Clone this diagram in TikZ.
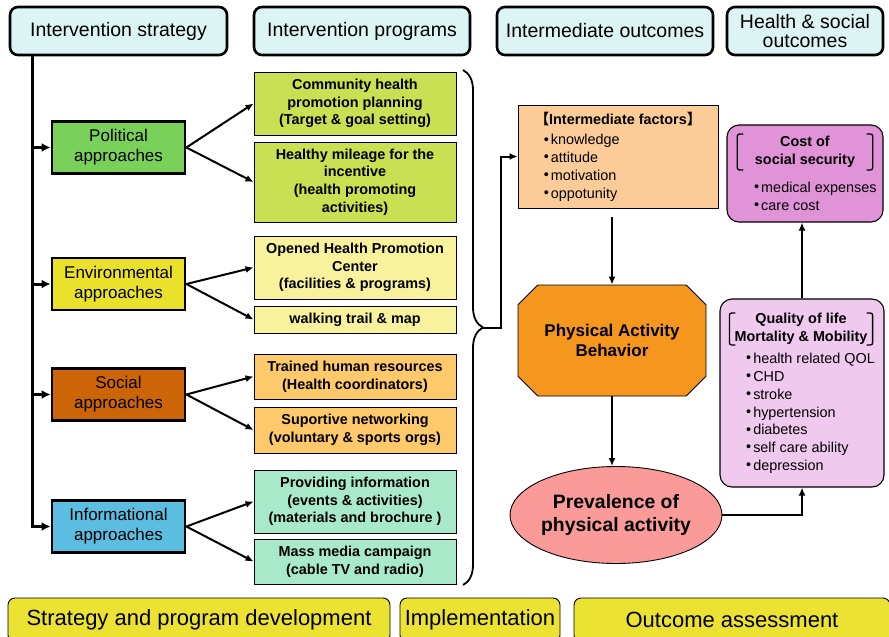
\documentclass[tikz,border=0pt]{standalone}
\usepackage{fontspec}
\setmainfont{Liberation Sans}
\newfontfamily\cjkfont{Noto Sans CJK SC}
\usepackage{graphicx}
\usepackage{xcolor}
\usetikzlibrary{arrows.meta, calc, positioning, shapes.geometric, shapes.misc, decorations.pathreplacing}

\definecolor{headcyan}{HTML}{DCF4F3}
\definecolor{polgreen}{HTML}{7AD15A}
\definecolor{envyellow}{HTML}{EAE22A}
\definecolor{socorange}{HTML}{CC6508}
\definecolor{infoblue}{HTML}{5BBEE0}
\definecolor{progolive}{HTML}{C8E052}
\definecolor{progcream}{HTML}{F7F29B}
\definecolor{progapricot}{HTML}{FDC96B}
\definecolor{progmint}{HTML}{A8E9C9}
\definecolor{peach}{HTML}{FBCB98}
\definecolor{actorange}{HTML}{F5961E}
\definecolor{prevpink}{HTML}{FA9A99}
\definecolor{qolpink}{HTML}{F0C9EE}
\definecolor{costorchid}{HTML}{E193D8}
\definecolor{bandyellow}{HTML}{EBE232}

\newcommand{\hdfont}{\fontsize{19.5}{19}\selectfont}
\newcommand{\apfont}{\fontsize{17}{20}\selectfont}
\newcommand{\pgfont}{\fontsize{14.4}{17.6}\selectfont\bfseries}
\newcommand{\ftfont}{\fontsize{14.4}{17.8}\selectfont}
\newcommand{\ftbold}{\fontsize{14.4}{18}\selectfont\bfseries}
\newcommand{\octfont}{\fontsize{17}{20}\selectfont\bfseries}
\newcommand{\prvfont}{\fontsize{19.4}{23}\selectfont\bfseries}
\newcommand{\bdfont}{\fontsize{22}{24}\selectfont}
\newcommand{\bul}{\raisebox{0.1ex}{\textbullet}\hspace{2pt}}

\begin{document}
\begin{tikzpicture}[x=1pt, y=-1pt,
  header/.style={draw, line width=2.6pt, rounded corners=8pt, fill=headcyan, align=center, font=\hdfont, inner sep=0pt, minimum height=48pt},
  approach/.style={draw, line width=2.8pt, minimum width=133pt, minimum height=52pt, align=center, font=\apfont, inner sep=0pt},
  prog/.style={draw, line width=0.9pt, minimum width=202pt, align=center, font=\pgfont, inner sep=0pt},
  outbox/.style={draw, line width=1.1pt, rounded corners=12pt, inner sep=0pt},
  band/.style={draw, line width=0.9pt, rounded corners=7pt, fill=bandyellow, font=\bdfont, minimum height=44pt, inner sep=0pt},
  link/.style={line width=2pt, -{Latex[length=8pt,width=7pt]}},
  trunk/.style={line width=3pt, -{Latex[length=9pt,width=9pt]}},
  brk/.style={line width=1.3pt, rounded corners=2pt},
]
\useasboundingbox (0,0) rectangle (889,637);
\clip (0,0) rectangle (889,637);

% column headers
\node[header, minimum width=217pt] (hstr) at (118.5,31) {Intervention strategy};
\node[header, minimum width=216pt] (hprog) at (362,31) {Intervention programs};
\node[header, minimum width=216pt] (hint) at (605,31) {Intermediate outcomes};
\node[header, minimum width=156pt] (hout) at (805,31) {Health \& social\\outcomes};

% approaches
\node[approach, fill=polgreen] (pol) at (118.5,147.5) {Political\\approaches};
\node[approach, fill=envyellow] (env) at (118.5,284) {Environmental\\approaches};
\node[approach, fill=socorange] (soc) at (118.5,394.5) {Social\\approaches};
\node[approach, fill=infoblue] (inf) at (118.5,526.5) {Informational\\approaches};

% programs
\node[prog, fill=progolive, minimum height=63pt] (commplan) at (355,103.5) {Community health\\promotion planning\\(Target \& goal setting)};
\node[prog, fill=progolive, minimum height=80pt] (mileage) at (355,182) {Healthy mileage for the\\incentive\\(health promoting\\activities)};
\node[prog, fill=progcream, minimum height=63pt] (center) at (355,267.5) {Opened Health Promotion\\Center\\(facilities \& programs)};
\node[prog, fill=progcream, minimum height=27pt] (trail) at (355,319.5) {walking trail \& map};
\node[prog, fill=progapricot, minimum height=45pt] (trained) at (355,376.5) {Trained human resources\\(Health coordinators)};
\node[prog, fill=progapricot, minimum height=46pt] (network) at (355,430) {Suportive networking\\(voluntary \& sports orgs)};
\node[prog, fill=progmint, minimum height=63pt] (provide) at (355,501.5) {Providing information\\(events \& activities)\\(materials and brochure )};
\node[prog, fill=progmint, minimum height=45pt] (media) at (355,561.5) {Mass media campaign\\(cable TV and radio)};

% trunk line and approach arrows
\coordinate (trunktop) at (32,55);
\draw[trunk] (trunktop) |- (inf.west);
\foreach \s in {pol,env,soc}
  \draw[trunk] (trunktop |- \s.west) -- (\s.west);
\foreach \s/\a/\b in {pol/commplan/mileage, env/center/trail, soc/trained/network, inf/provide/media} {
  \draw[link] (\s.east) -- (\a.west);
  \draw[link] (\s.east) -- (\b.west);
}

% brace over the programs
\draw[line width=1.8pt, decorate, decoration={brace, amplitude=20pt}] (463,70) -- (463,585);
\coordinate (bracetip) at (483,327.5);

% intermediate outcomes
\node[draw, line width=0.9pt, fill=peach, minimum width=200pt, minimum height=103pt, align=left, font=\ftfont, inner sep=0pt] (ifac) at (618,156.5)
  {\textbf{{\cjkfont 【}Intermediate factors{\cjkfont 】}}\\[3pt]
   \hspace{9pt}\bul knowledge\\
   \hspace{9pt}\bul attitude\\
   \hspace{9pt}\bul motivation\\
   \hspace{9pt}\bul oppotunity};
\node[chamfered rectangle, chamfered rectangle xsep=33pt, draw, line width=0.9pt, fill=actorange, minimum width=188pt, minimum height=111pt, inner sep=0pt, align=center, font=\octfont] (pab) at (612,340.5) {Physical Activity\\Behavior};
\node[ellipse, draw, line width=0.9pt, fill=prevpink, minimum width=196pt, minimum height=97pt, inner sep=0pt, align=center, font=\prvfont] (prev) at (616,515) {Prevalence of\\physical activity};

% health & social outcomes
\node[outbox, fill=qolpink, minimum width=164pt, minimum height=188pt] (qol) at (802,393) {};
\node[font=\ftbold, align=center, inner xsep=5pt, inner ysep=0pt] (qoltitle) at (801,329) {Quality of life\\Mortality \& Mobility};
\node[font=\ftfont, align=left, anchor=north west, inner sep=0pt] (qollist) at (746,353)
  {\bul health related QOL\\\bul CHD\\\bul stroke\\\bul hypertension\\\bul diabetes\\\bul self care ability\\\bul depression};
\node[outbox, fill=costorchid, minimum width=156pt, minimum height=97pt] (cost) at (805,173.5) {};
\node[font=\ftbold, align=center, minimum width=135pt, inner ysep=2pt] (costtitle) at (805,152) {Cost of\\social security};
\node[font=\ftfont, align=left, anchor=north west, inner sep=0pt] (costlist) at (754,182)
  {\bul medical expenses\\\bul care cost};
\foreach \t in {qoltitle, costtitle} {
  \draw[brk] ([xshift=6pt]\t.north west) -- (\t.north west) -- (\t.south west) -- ([xshift=6pt]\t.south west);
  \draw[brk] ([xshift=-6pt]\t.north east) -- (\t.north east) -- (\t.south east) -- ([xshift=-6pt]\t.south east);
}

% flow
\draw[link] (bracetip) -- ++(18,0) |- (ifac.west);
\draw[link] ($(ifac.south -| pab.north)+(0,9)$) -- (pab.north);
\draw[link] (pab.south) -- (pab.south |- prev.north);
\draw[link] (prev.east) -| (qol.south);
\draw[link] (qol.north) -- (qol.north |- cost.south);

% stages
\node[band, minimum width=382pt] (stratdev) at (199,620) {Strategy and program development};
\node[band, minimum width=160pt] (implement) at (480,620) {Implementation};
\node[band, minimum width=316pt] (assess) at (732,620) {Outcome assessment};
\end{tikzpicture}
\end{document}
